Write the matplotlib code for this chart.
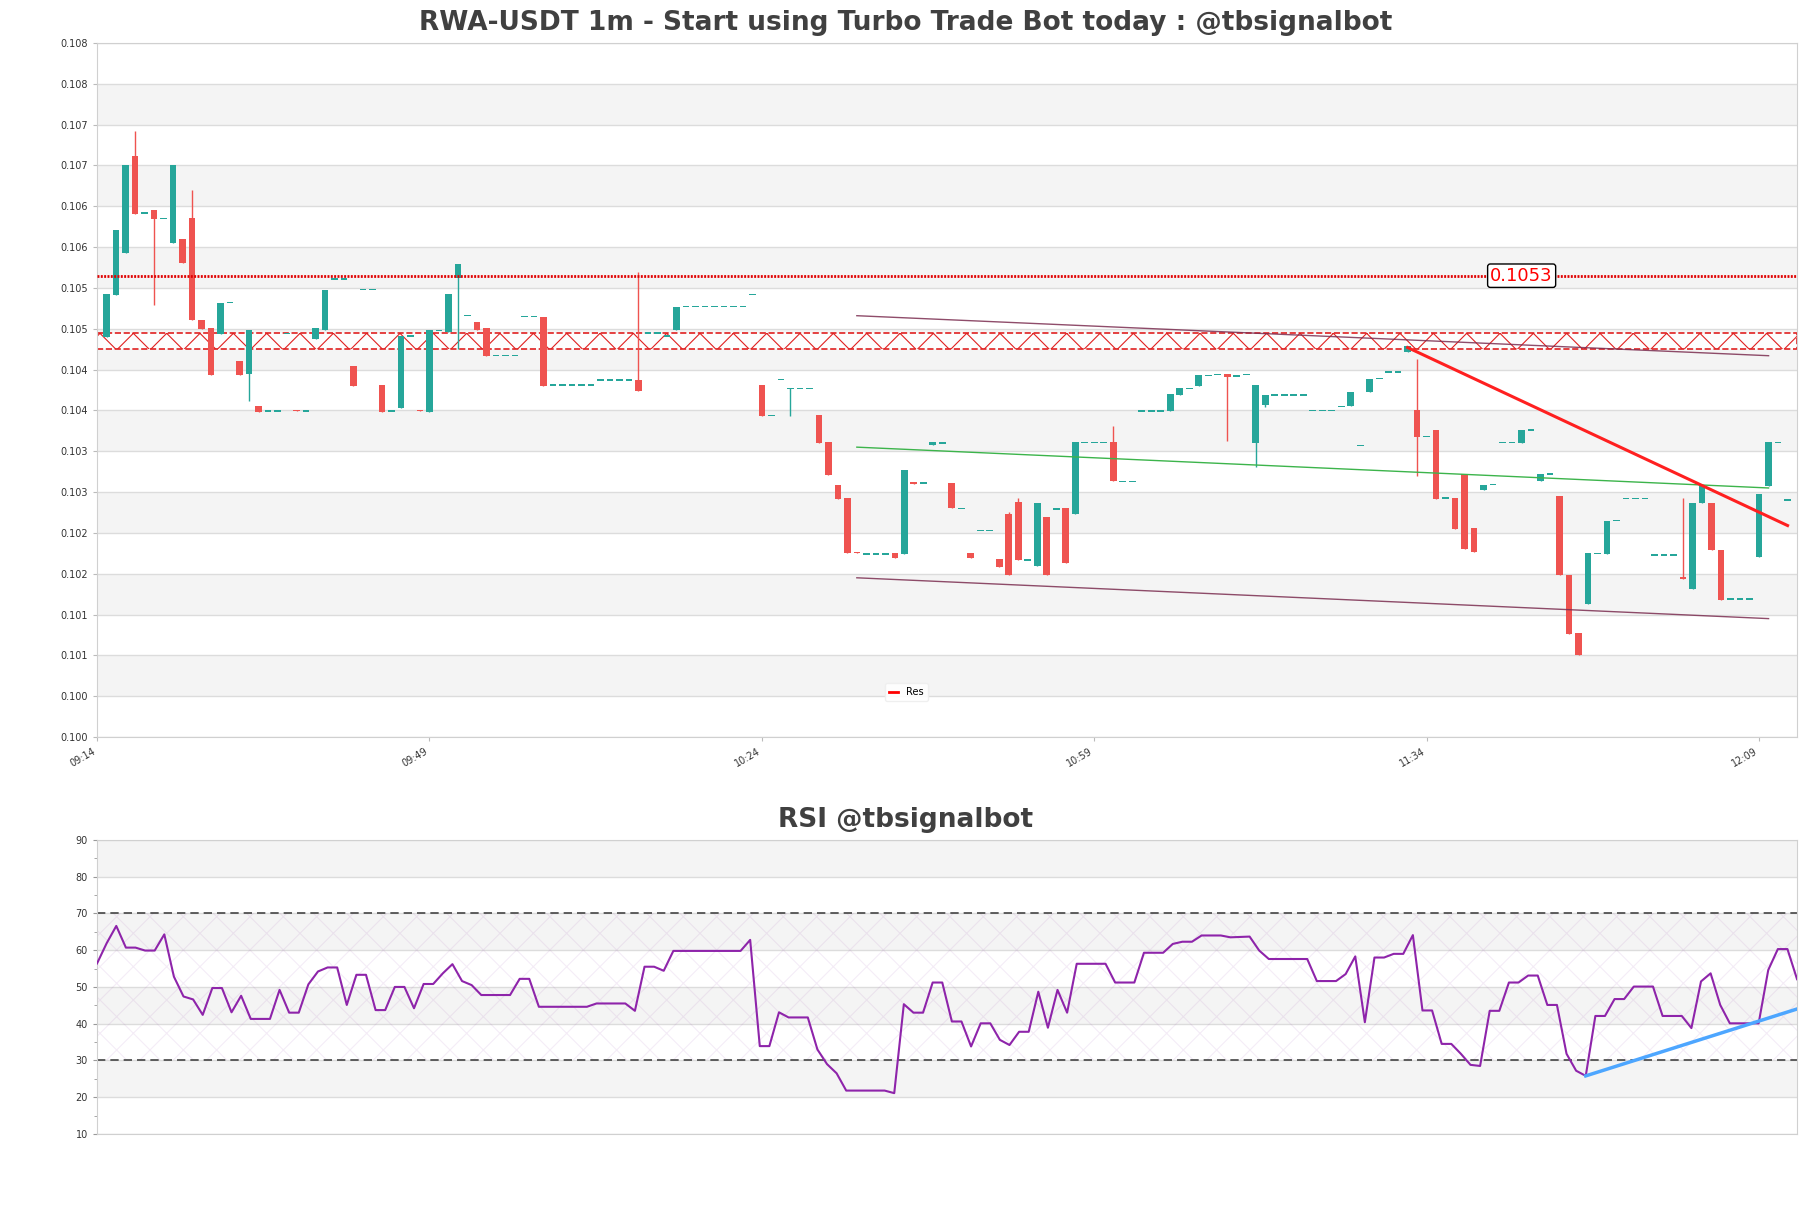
import matplotlib.pyplot as plt
import numpy as np
from matplotlib.lines import Line2D

# 1m candles, first bar 09:15
opens = [
    0.10455, 0.10506, 0.10558, 0.10677, 0.10607, 0.10611, 0.10600, 0.10570, 0.10575, 0.10601,
    0.10476, 0.10466, 0.10459, 0.10497, 0.10425, 0.10410, 0.10370, 0.10364, 0.10364, 0.10459,
    0.10366, 0.10364, 0.10452, 0.10464, 0.10526, 0.10526, 0.10419, 0.10513, 0.10513, 0.10396,
    0.10364, 0.10368, 0.10456, 0.10366, 0.10363, 0.10463, 0.10461, 0.10527, 0.10481, 0.10473,
    0.10466, 0.10432, 0.10432, 0.10432, 0.10480, 0.10480, 0.10480, 0.10396, 0.10396, 0.10396,
    0.10396, 0.10396, 0.10402, 0.10402, 0.10402, 0.10402, 0.10402, 0.10460, 0.10460, 0.10456,
    0.10464, 0.10492, 0.10492, 0.10492, 0.10492, 0.10492, 0.10492, 0.10492, 0.10507, 0.10396,
    0.10359, 0.10403, 0.10392, 0.10392, 0.10392, 0.10359, 0.10326, 0.10274, 0.10258, 0.10192,
    0.10189, 0.10189, 0.10189, 0.10190, 0.10189, 0.10277, 0.10276, 0.10323, 0.10325, 0.10276,
    0.10245, 0.10190, 0.10218, 0.10218, 0.10183, 0.10238, 0.10253, 0.10182, 0.10174, 0.10235,
    0.10244, 0.10245, 0.10238, 0.10326, 0.10326, 0.10326, 0.10326, 0.10278, 0.10278, 0.10364,
    0.10364, 0.10364, 0.10364, 0.10384, 0.10392, 0.10395, 0.10408, 0.10409, 0.10409, 0.10407,
    0.10409, 0.10325, 0.10372, 0.10384, 0.10384, 0.10384, 0.10384, 0.10365, 0.10365, 0.10365,
    0.10370, 0.10370, 0.10322, 0.10388, 0.10404, 0.10412, 0.10412, 0.10437, 0.10366, 0.10333,
    0.10341, 0.10258, 0.10258, 0.10287, 0.10221, 0.10267, 0.10274, 0.10326, 0.10326, 0.10325,
    0.10341, 0.10279, 0.10287, 0.10260, 0.10164, 0.10092, 0.10128, 0.10190, 0.10189, 0.10230,
    0.10257, 0.10257, 0.10257, 0.10188, 0.10188, 0.10188, 0.10161, 0.10146, 0.10251, 0.10252,
    0.10194, 0.10134, 0.10134, 0.10134, 0.10186, 0.10273, 0.10326, 0.10255,
]
closes = [
    0.10507, 0.10586, 0.10666, 0.10606, 0.10607, 0.10599, 0.10600, 0.10665, 0.10545, 0.10476,
    0.10465, 0.10408, 0.10497, 0.10497, 0.10408, 0.10464, 0.10363, 0.10364, 0.10364, 0.10459,
    0.10364, 0.10364, 0.10466, 0.10512, 0.10526, 0.10526, 0.10395, 0.10513, 0.10513, 0.10363,
    0.10364, 0.10456, 0.10456, 0.10364, 0.10463, 0.10463, 0.10507, 0.10544, 0.10481, 0.10464,
    0.10432, 0.10432, 0.10432, 0.10432, 0.10480, 0.10480, 0.10395, 0.10396, 0.10396, 0.10396,
    0.10396, 0.10396, 0.10402, 0.10402, 0.10402, 0.10402, 0.10389, 0.10460, 0.10460, 0.10456,
    0.10492, 0.10492, 0.10492, 0.10492, 0.10492, 0.10492, 0.10492, 0.10492, 0.10507, 0.10358,
    0.10359, 0.10403, 0.10392, 0.10392, 0.10392, 0.10325, 0.10286, 0.10257, 0.10190, 0.10190,
    0.10189, 0.10189, 0.10189, 0.10184, 0.10292, 0.10275, 0.10276, 0.10326, 0.10325, 0.10245,
    0.10245, 0.10184, 0.10218, 0.10218, 0.10173, 0.10163, 0.10182, 0.10182, 0.10252, 0.10163,
    0.10244, 0.10178, 0.10326, 0.10326, 0.10326, 0.10326, 0.10278, 0.10278, 0.10278, 0.10364,
    0.10364, 0.10364, 0.10385, 0.10392, 0.10392, 0.10408, 0.10408, 0.10409, 0.10406, 0.10407,
    0.10409, 0.10396, 0.10384, 0.10384, 0.10384, 0.10384, 0.10384, 0.10365, 0.10365, 0.10365,
    0.10370, 0.10388, 0.10322, 0.10404, 0.10404, 0.10412, 0.10412, 0.10444, 0.10333, 0.10333,
    0.10257, 0.10258, 0.10220, 0.10195, 0.10191, 0.10274, 0.10274, 0.10326, 0.10326, 0.10341,
    0.10341, 0.10287, 0.10287, 0.10163, 0.10091, 0.10066, 0.10190, 0.10190, 0.10230, 0.10230,
    0.10257, 0.10257, 0.10257, 0.10188, 0.10188, 0.10188, 0.10158, 0.10252, 0.10274, 0.10194,
    0.10133, 0.10134, 0.10134, 0.10134, 0.10263, 0.10326, 0.10326, 0.10255,
]
# wicks that reach beyond the body
wick_high_idx = [3, 9, 56, 95, 96, 106, 138, 166]
wick_high_val = [0.10707, 0.10635, 0.10535, 0.10241, 0.10258, 0.10346, 0.10428, 0.10258]
wick_low_idx = [5, 15, 37, 72, 118, 121, 122, 138]
wick_low_val = [0.10494, 0.10376, 0.10440, 0.10358, 0.10327, 0.10296, 0.10369, 0.10285]

ytick_labels = ['0.100', '0.100', '0.101', '0.101', '0.102', '0.102', '0.103', '0.103', '0.104',
                '0.104', '0.105', '0.105', '0.106', '0.106', '0.107', '0.107', '0.108', '0.108']
xtick_pos = [-1, 34, 69, 104, 139, 174]
xtick_labels = ['09:14', '09:49', '10:24', '10:59', '11:34', '12:09']

res_level = 0.1053
zone = [0.10440, 0.10460]
chan_x = [79, 175]
chan_upper = [0.10481, 0.10432]
chan_mid = [0.10320, 0.10270]
chan_lower = [0.10160, 0.10110]
trend_x = [137, 177]
trend_y = [0.10442, 0.10224]

rsi = [
    56.4, 61.9, 66.6, 60.7, 60.7, 59.9, 59.9, 64.3, 52.8, 47.4,
    46.6, 42.4, 49.7, 49.7, 43.1, 47.6, 41.3, 41.3, 41.3, 49.2,
    43.0, 43.0, 50.7, 54.2, 55.3, 55.3, 45.1, 53.3, 53.3, 43.7,
    43.7, 50.0, 50.0, 44.2, 50.8, 50.8, 53.7, 56.2, 51.6, 50.5,
    47.8, 47.8, 47.8, 47.8, 52.2, 52.2, 44.6, 44.6, 44.6, 44.6,
    44.6, 44.6, 45.5, 45.5, 45.5, 45.5, 43.5, 55.5, 55.5, 54.4,
    59.8, 59.8, 59.8, 59.8, 59.8, 59.8, 59.8, 59.8, 62.8, 33.9,
    33.9, 43.1, 41.7, 41.7, 41.7, 33.0, 29.0, 26.5, 21.8, 21.8,
    21.8, 21.8, 21.8, 21.1, 45.3, 43.0, 43.0, 51.2, 51.2, 40.6,
    40.6, 33.8, 40.1, 40.1, 35.6, 34.2, 37.8, 37.8, 48.7, 38.9,
    49.2, 43.0, 56.3, 56.3, 56.3, 56.3, 51.2, 51.2, 51.2, 59.3,
    59.3, 59.3, 61.7, 62.3, 62.3, 64.0, 64.0, 64.0, 63.5, 63.6,
    63.7, 59.9, 57.6, 57.6, 57.6, 57.6, 57.6, 51.6, 51.6, 51.6,
    53.5, 58.3, 40.4, 58.0, 58.0, 59.0, 59.0, 64.1, 43.6, 43.6,
    34.5, 34.5, 31.8, 28.8, 28.5, 43.5, 43.5, 51.2, 51.2, 53.1,
    53.1, 45.1, 45.1, 31.8, 27.2, 25.8, 42.1, 42.1, 46.7, 46.7,
    50.1, 50.1, 50.1, 42.1, 42.1, 42.1, 38.8, 51.5, 53.7, 45.1,
    40.1, 40.1, 40.1, 40.1, 54.6, 60.3, 60.3, 52.1,
]
rsi_trend_x = [155, 177]
rsi_trend_y = [25.8, 44.0]

GREEN = '#26a69a'
RED = '#ef5350'
BAND = '#f4f4f4'
GRID = '#dcdcdc'
SPINE = '#d0d0d0'

plt.rcParams['hatch.linewidth'] = 0.8

fig = plt.figure(figsize=(18.11, 12.08), dpi=100)
ax = fig.add_axes([0.0536, 0.3899, 0.9387, 0.5745])
rax = fig.add_axes([0.0536, 0.0613, 0.9387, 0.2434])

# ---- price panel ----
o = np.array(opens)
c = np.array(closes)
x = np.arange(len(o))
hi = np.maximum(o, c)
lo = np.minimum(o, c)
hi[wick_high_idx] = wick_high_val
lo[wick_low_idx] = wick_low_val
cols = np.where(c >= o, GREEN, RED)

yt = np.linspace(0.09965, 0.10815, 18)
for k in range(1, 17, 2):
    ax.axhspan(yt[k], yt[k + 1], color=BAND, lw=0, zorder=0)

ax.vlines(x, lo, hi, colors=cols, lw=1, zorder=3)
body = np.maximum(np.abs(c - o), 1.8e-5)
bottom = np.minimum(o, c) - (body - np.abs(c - o)) / 2
ax.bar(x, body, bottom=bottom, width=0.7, color=cols, zorder=4)

# support/resistance zone
ax.axhspan(zone[0], zone[1], facecolor=(1, 1, 1, 0.85), edgecolor='#e02020',
           hatch='x', lw=1.2, ls='--', zorder=2)
ax.axhline(res_level, color='#e00000', lw=2, ls=(0, (0.7, 0.5)), zorder=5)
ax.text(149, res_level, '0.1053', color='red', fontsize=13, ha='center', va='center',
        bbox=dict(boxstyle='round,pad=0.15', fc='white', ec='black', lw=1), zorder=6)

ax.plot(chan_x, chan_upper, color='#7b2d50', lw=1, alpha=0.85, zorder=5)
ax.plot(chan_x, chan_lower, color='#7b2d50', lw=1, alpha=0.85, zorder=5)
ax.plot(chan_x, chan_mid, color='#3cb44b', lw=1, zorder=5)
ax.plot(trend_x, trend_y, color='#ff2020', lw=2.2, zorder=5)

ax.legend(handles=[Line2D([], [], color='red', lw=2)], labels=['Res'], loc='lower center',
          bbox_to_anchor=(0.476, 0.045), fontsize=7, framealpha=0.9, edgecolor='#eeeeee',
          handlelength=1.0)

ax.set_xlim(-1, 178)
ax.set_ylim(yt[0], yt[-1])
ax.set_yticks(yt)
ax.set_yticklabels(ytick_labels)
ax.set_xticks(xtick_pos)
ax.set_xticklabels(xtick_labels, rotation=30, ha='right')
ax.set_axisbelow(True)
ax.grid(axis='y', color=GRID, lw=1)
ax.tick_params(labelsize=7, labelcolor='#333333', color='#bbbbbb', length=3)
for s in ax.spines.values():
    s.set_color(SPINE)

# ---- RSI panel ----
for b in [20, 40, 60, 80]:
    rax.axhspan(b, b + 10, color=BAND, lw=0, zorder=0)
rx = np.arange(len(rsi))
rax.fill_between([0, 177], 30, 70, facecolor='none', edgecolor=(0.55, 0.2, 0.65, 0.09),
                 hatch='x', lw=0, zorder=1)
rax.axhline(70, color='#444444', lw=1.2, ls=(0, (5, 3)), zorder=2)
rax.axhline(30, color='#444444', lw=1.2, ls=(0, (5, 3)), zorder=2)
rax.plot(rx, rsi, color='#8e24aa', lw=1.5, zorder=4)
rax.plot(rsi_trend_x, rsi_trend_y, color='#4da6ff', lw=2.5, zorder=5)

rax.set_xlim(0, 177)
rax.set_ylim(10, 90)
rax.set_yticks(np.arange(10, 91, 10))
rax.set_yticks(np.arange(15, 90, 10), minor=True)
rax.set_xticks([])
rax.set_axisbelow(True)
rax.grid(axis='y', which='major', color=GRID, lw=1)
rax.tick_params(labelsize=7, labelcolor='#333333', color='#999999', length=3)
rax.tick_params(which='minor', length=2, color='#999999')
for s in rax.spines.values():
    s.set_color(SPINE)

fig.text(0.5, 0.981, 'RWA-USDT 1m - Start using Turbo Trade Bot today : @tbsignalbot',
         ha='center', va='center', fontsize=19, fontweight='bold', color='#404040')
fig.text(0.5, 0.321, 'RSI @tbsignalbot', ha='center', va='center',
         fontsize=19, fontweight='bold', color='#404040')

fig.savefig('out.png', dpi=100)
